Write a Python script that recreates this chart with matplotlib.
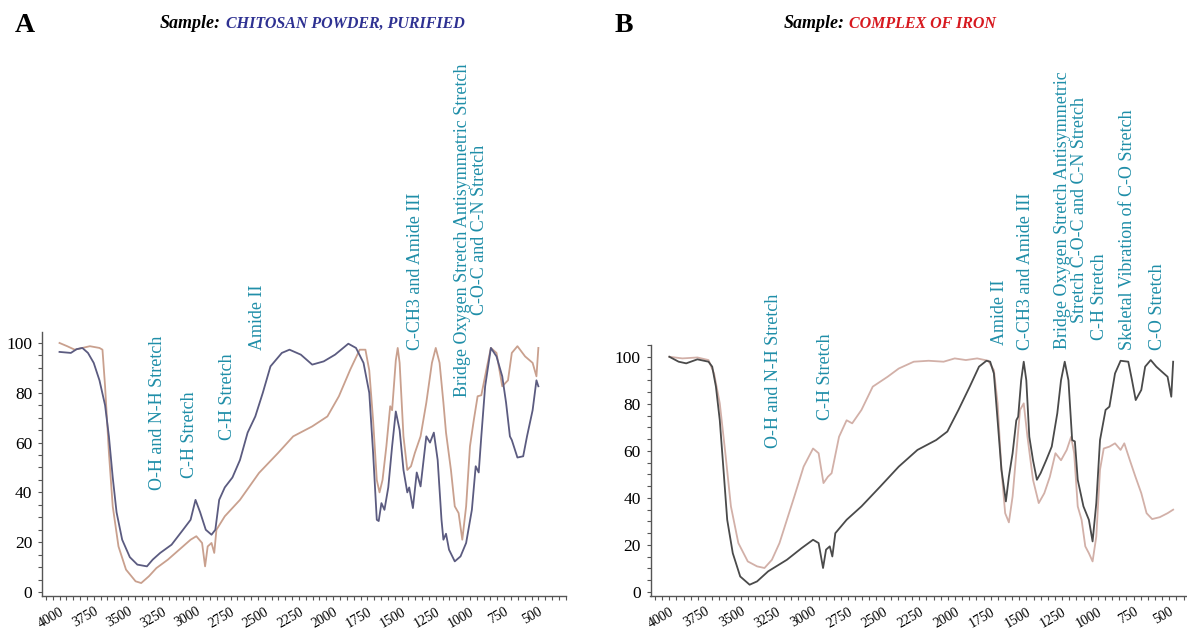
import matplotlib
matplotlib.use("Agg")
import matplotlib.pyplot as plt
import matplotlib.transforms as mtransforms
from matplotlib.ticker import MultipleLocator, FixedLocator

# ---------------- data ----------------
# Panel A: chitosan powder, purified
a_blue_x = [4000, 3917, 3875, 3833, 3792, 3750, 3708, 3667, 3639, 3611, 3583, 3542, 3486, 3431,
            3361, 3319, 3264, 3181, 3097, 3042, 3006, 2972, 2931, 2889, 2861, 2833, 2792, 2736,
            2681, 2625, 2569, 2514, 2458, 2375, 2319, 2236, 2153, 2069, 1986, 1889, 1833, 1778,
            1736, 1708, 1681, 1667, 1647, 1625, 1597, 1569, 1542, 1514, 1486, 1458, 1444, 1417,
            1389, 1361, 1319, 1292, 1264, 1236, 1208, 1194, 1175, 1153, 1111, 1069, 1028, 986,
            958, 936, 917, 889, 847, 806, 764, 736, 708, 694, 653, 611, 583, 542, 514, 500]
a_blue_y = [96.4, 96, 97.5, 98, 96, 92, 85, 75, 62.5, 46, 32, 21, 14, 11,
            10.3, 13, 15.7, 19, 25, 29, 37, 32, 25, 23, 25, 37, 42, 46,
            53, 64, 70.5, 80, 90.6, 96, 97.3, 95.3, 91.3, 92.6, 95.3, 99.7, 98, 92,
            80, 56, 29, 28.5, 35.7, 33, 42, 58.5, 72.5, 65, 49, 40, 42, 33.7,
            48, 42.4, 62.5, 60, 64, 53, 29, 21, 23.4, 17, 12.3, 14.3, 19.7, 33,
            50.5, 48, 62.5, 82.6, 98, 94.6, 86.6, 76, 62.5, 61, 54, 54.5, 62.5, 73, 85, 82.6]

a_tan_x = [4000, 3944, 3889, 3833, 3778, 3708, 3686, 3667, 3639, 3611, 3569, 3514, 3444, 3403,
           3347, 3292, 3208, 3125, 3042, 3000, 2958, 2936, 2917, 2889, 2869, 2853, 2792, 2681,
           2542, 2403, 2292, 2153, 2042, 1958, 1875, 1806, 1764, 1736, 1708, 1681, 1661, 1639,
           1611, 1583, 1569, 1542, 1528, 1514, 1486, 1458, 1431, 1403, 1361, 1319, 1278, 1250,
           1222, 1194, 1175, 1139, 1111, 1083, 1056, 1028, 1000, 972, 944, 917, 875, 847,
           806, 764, 722, 694, 653, 597, 542, 514, 500]
a_tan_y = [100, 98.7, 97.3, 98, 98.7, 98, 97.3, 82.6, 56, 34.4, 18.3, 9, 4.3, 3.6,
           6.3, 9.6, 13, 17, 21, 22.4, 19.7, 10.3, 18.3, 19.7, 15.7, 25, 30.4, 37,
           47.8, 55.8, 62.5, 66.5, 70.5, 78.6, 89.3, 97.3, 97.3, 89, 69, 45, 40, 45,
           58.5, 74.6, 73, 93, 98, 92, 62.5, 49, 50.5, 55.8, 62.5, 76, 92, 98,
           92, 76, 64, 49, 34.4, 31.7, 21, 34.4, 58.5, 69, 78.6, 79, 90.6, 98,
           96, 82.6, 85, 96, 98.7, 94.6, 92, 86.6, 98]

# Panel B: complex of iron
b_dark_x = [4000, 3935, 3882, 3804, 3726, 3700, 3674, 3647, 3621, 3595, 3556, 3504, 3438, 3386,
            3308, 3177, 3073, 2994, 2955, 2924, 2903, 2877, 2859, 2838, 2759, 2655, 2524, 2394,
            2263, 2132, 2054, 1976, 1897, 1832, 1780, 1754, 1728, 1702, 1675, 1644, 1623, 1597,
            1571, 1558, 1537, 1519, 1501, 1480, 1454, 1427, 1401, 1362, 1323, 1284, 1258, 1232,
            1206, 1180, 1161, 1141, 1101, 1063, 1037, 1011, 985, 946, 919, 880, 841, 787,
            761, 735, 696, 669, 630, 591, 551, 512, 486, 473]
b_dark_y = [100, 97.9, 97.2, 98.9, 97.9, 95.8, 87.3, 73, 52, 30.7, 16.5, 6.6, 3.1, 4.5,
            8.8, 13.7, 18.7, 22.2, 20.8, 10.2, 18, 19.4, 15.1, 25, 30.7, 36.4, 44.8, 53.3,
            60.4, 64.6, 68.2, 77.4, 87.3, 95.8, 98.3, 97.9, 92.9, 73, 52, 38.5, 49, 59,
            73, 74.5, 90, 97.9, 90, 66, 56, 47.7, 50.5, 56, 61.8, 76, 90, 97.9,
            90, 64.6, 64, 47.7, 36.4, 30.7, 21.5, 37.8, 64.6, 77.4, 78.8, 92.9, 98.3, 97.9,
            90, 81.6, 85.9, 95.8, 98.6, 95.8, 93.6, 91.5, 83, 97.9]

b_pink_x = [4000, 3909, 3804, 3726, 3687, 3647, 3608, 3569, 3517, 3451, 3386, 3334, 3282, 3229,
            3177, 3125, 3060, 2994, 2955, 2921, 2890, 2864, 2812, 2759, 2720, 2655, 2576, 2472,
            2394, 2289, 2185, 2080, 2002, 1924, 1845, 1767, 1728, 1702, 1675, 1649, 1623, 1597,
            1571, 1545, 1519, 1493, 1454, 1414, 1375, 1336, 1297, 1258, 1218, 1187, 1166, 1141,
            1114, 1088, 1063, 1037, 1011, 985, 959, 919, 880, 841, 815, 776, 737, 696,
            659, 620, 567, 512, 473]
b_pink_y = [100, 99.3, 99.7, 98.6, 92.9, 80.2, 59, 36.4, 20.8, 13, 10.9, 10.2, 13.7, 20.8,
            30.7, 40.6, 53.3, 61, 59, 46.3, 49, 50.5, 66, 73, 71.7, 77.4, 87.3, 91.5,
            95, 97.9, 98.3, 97.9, 99.3, 98.6, 99.3, 98.3, 94.3, 80.2, 52, 33.5, 29.6, 40.6,
            59, 77.4, 80.2, 66, 47.7, 37.8, 42, 49, 59, 56, 60.4, 66, 59, 36.4,
            30.7, 19.4, 16.5, 13, 23.6, 52, 61, 61.8, 63.2, 60.4, 63.2, 56, 49, 42,
            33.5, 31, 31.8, 33.5, 35]

x_ticks = [4000, 3750, 3500, 3250, 3000, 2750, 2500, 2250, 2000, 1750, 1500, 1250, 1000, 750, 500]
y_ticks = [0, 20, 40, 60, 80, 100]

a_labels = ["O-H and N-H Stretch", "C-H Stretch", "C-H Stretch", "Amide II",
            "C-CH3 and Amide III",
            "Bridge Oxygen Stretch Antisymmetric Stretch\nC-O-C and C-N Stretch"]
b_labels = ["O-H and N-H Stretch", "C-H Stretch", "Amide II", "C-CH3 and Amide III",
            "Bridge Oxygen Stretch Antisymmetric\nStretch C-O-C and C-N Stretch",
            "C-H Stretch", "Skeletal Vibration of C-O Stretch", "C-O Stretch"]

# ---------------- styling ----------------
W, H = 1187, 629
SERIF = ["Liberation Serif", "DejaVu Serif"]
TEAL = "#1f8ea8"
AXC = "#555555"

fig = plt.figure(figsize=(W / 100, H / 100), dpi=100)


def fx(px):
    return px / W


def fy(py):
    return 1 - py / H


def style_axes(ax, xlim, ylim):
    ax.set_xlim(*xlim)
    ax.set_ylim(*ylim)
    for s in ["top", "right"]:
        ax.spines[s].set_visible(False)
    for s in ["left", "bottom"]:
        ax.spines[s].set_color(AXC)
        ax.spines[s].set_linewidth(1.0)
    ax.xaxis.set_major_locator(FixedLocator(x_ticks))
    ax.xaxis.set_minor_locator(MultipleLocator(50))
    ax.yaxis.set_major_locator(FixedLocator(y_ticks))
    ax.yaxis.set_minor_locator(MultipleLocator(5))
    ax.tick_params(which="both", direction="out", color=AXC, length=3, width=0.8)
    labels = ax.set_xticklabels([str(t) for t in x_ticks], rotation=30, ha="right", va="top",
                                rotation_mode="anchor", family=SERIF, fontsize=10)
    offset = mtransforms.ScaledTranslation(6 / 100, 0, fig.dpi_scale_trans)
    for lab in labels:
        lab.set_transform(lab.get_transform() + offset)
    ax.set_yticklabels([str(t) for t in y_ticks], family=SERIF, fontsize=12.5)
    ax.tick_params(axis="x", pad=3.5)
    ax.tick_params(axis="y", pad=4)
    ax.patch.set_alpha(0)


# Panel A
axA = fig.add_axes([fx(42), fy(596), fx(566) - fx(42), fy(332) - fy(596)])
axA.plot(a_tan_x, a_tan_y, color="#c9a08e", lw=1.3)
axA.plot(a_blue_x, a_blue_y, color="#5b5b80", lw=1.3)
style_axes(axA, (4128, 298), (-1.6, 104.4))

# Panel B
axB = fig.add_axes([fx(650.5), fy(596), fx(1187) - fx(650.5), fy(345) - fy(596)])
axB.plot(b_pink_x, b_pink_y, color="#d2b0a8", lw=1.3)
axB.plot(b_dark_x, b_dark_y, color="#4a4a4a", lw=1.3)
style_axes(axB, (4132, 376), (-1.7, 105))

# Panel letters and titles
fig.text(fx(15), fy(25), "A", fontsize=20, fontweight="bold", family=SERIF, va="center", ha="left")
fig.text(fx(615), fy(25), "B", fontsize=20, fontweight="bold", family=SERIF, va="center", ha="left")

fig.text(fx(221), fy(24), "Sample:", fontsize=13, fontweight="bold", style="italic",
         family=SERIF, ha="right", va="center", color="black")
fig.text(fx(226), fy(24), "CHITOSAN POWDER, PURIFIED", fontsize=11.5, fontweight="bold",
         style="italic", family=SERIF, ha="left", va="center", color="#2e3192")
fig.text(fx(845), fy(24), "Sample:", fontsize=13, fontweight="bold", style="italic",
         family=SERIF, ha="right", va="center", color="black")
fig.text(fx(849), fy(24), "COMPLEX OF IRON", fontsize=11.5, fontweight="bold",
         style="italic", family=SERIF, ha="left", va="center", color="#d7191f")

# annotations: (x px, y px, anchor)
a_pos = [(158, 490, "bottom"), (190, 478, "bottom"), (227, 440, "bottom"), (258, 350, "bottom"),
         (415, 350, "bottom"), (471, 230, "center")]
b_pos = [(773, 448, "bottom"), (825, 420, "bottom"), (1000, 345, "bottom"), (1025, 350, "bottom"),
         (1071, 210, "center"), (1100, 340, "bottom"), (1128, 350, "bottom"), (1157, 350, "bottom")]

for lab, (x, y, va) in zip(a_labels + b_labels, a_pos + b_pos):
    fig.text(fx(x), fy(y), lab, rotation=90, ha="center", va=va, multialignment="center",
             fontsize=13, family=SERIF, color=TEAL, linespacing=1.05)

fig.savefig("out.png", dpi=100, facecolor="white")
